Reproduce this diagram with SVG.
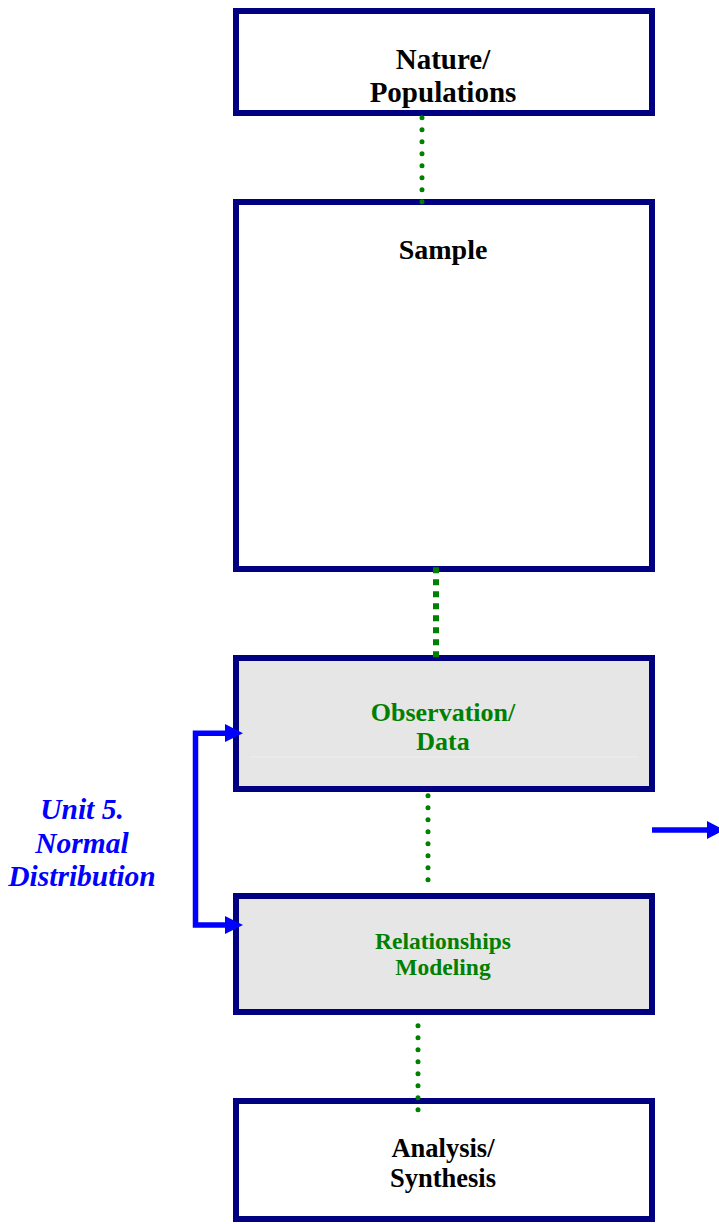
<svg xmlns="http://www.w3.org/2000/svg" width="719" height="1224" viewBox="0 0 719 1224">
<style>
.box{fill:#ffffff;stroke:#000080;stroke-width:6}
.gray{fill:#e6e6e6}
.t{font-family:"Liberation Serif","Times New Roman",serif;font-weight:bold;text-anchor:middle}
.blk{fill:#000000}
.grn{fill:#008000}
.dot{stroke:#008000;stroke-width:5;stroke-linecap:round;stroke-dasharray:0 12;fill:none}
.sq{stroke:#008000;stroke-width:6;stroke-dasharray:6 6;fill:none}
.blue{stroke:#0000ff;stroke-width:5.5;fill:none}
.head{fill:#0000ff}
</style>
<rect width="719" height="1224" fill="#ffffff"/>
<g id="nature">
<rect class="box" x="236" y="11" width="416" height="102"/>
<text class="t blk" x="443" y="69" font-size="29">Nature/</text>
<text class="t blk" x="443" y="102" font-size="29">Populations</text>
</g>
<g id="sample">
<rect class="box" x="236" y="202" width="416" height="367"/>
<text class="t blk" x="443" y="259" font-size="28">Sample</text>
</g>
<g id="observation">
<rect class="box gray" x="236" y="658" width="416" height="131"/>
<line x1="250" y1="757" x2="638" y2="757" stroke="#eeeeee" stroke-width="1"/>
<text class="t grn" x="443" y="721" font-size="26">Observation/</text>
<text class="t grn" x="443" y="750" font-size="26">Data</text>
</g>
<g id="relationships">
<rect class="box gray" x="236" y="896" width="416" height="116"/>
<text class="t grn" x="443" y="949" font-size="23.5">Relationships</text>
<text class="t grn" x="443" y="975" font-size="23.5">Modeling</text>
</g>
<g id="analysis">
<rect class="box" x="236" y="1101" width="416" height="118"/>
<text class="t blk" x="443" y="1157" font-size="26.5">Analysis/</text>
<text class="t blk" x="443" y="1187" font-size="26.5">Synthesis</text>
</g>
<g id="unit5">
<text class="t" x="82" y="819" font-size="29.5" font-style="italic" fill="#0000ff">Unit 5.</text>
<text class="t" x="82" y="853" font-size="29.5" font-style="italic" fill="#0000ff">Normal</text>
<text class="t" x="82" y="886" font-size="29.5" font-style="italic" fill="#0000ff">Distribution</text>
</g>
<g id="connectors">
<line class="dot" x1="422" y1="117.7" x2="422" y2="202"/>
<line class="sq" x1="436" y1="567.3" x2="436" y2="657.7"/>
<line class="dot" x1="428" y1="795.7" x2="428" y2="880"/>
<line class="dot" x1="418" y1="1025.7" x2="418" y2="1110"/>
<polyline class="blue" points="226,733.3 195.5,733.3 195.5,925 226,925"/>
<polygon class="head" points="225,724 243,733.3 225,742"/>
<polygon class="head" points="225,916 243,925 225,934"/>
<line class="blue" x1="652" y1="830" x2="708" y2="830"/>
<polygon class="head" points="707,821 724,830 707,839"/>
</g>
</svg>
